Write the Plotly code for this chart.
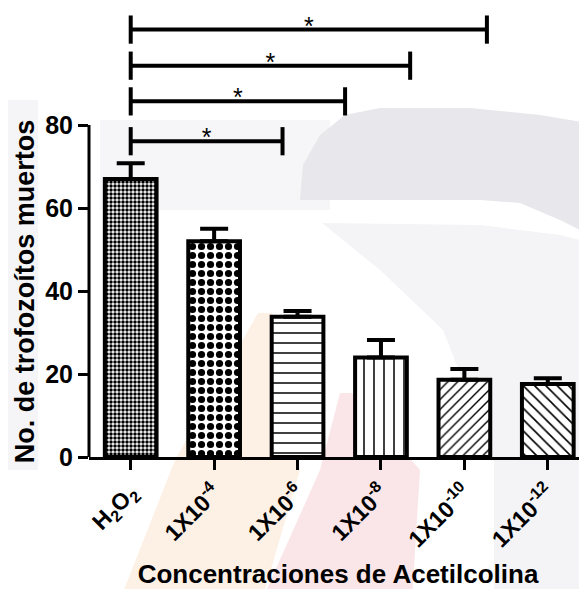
import plotly.graph_objects as go

# ---------------- data ----------------
categories = ["H<sub>2</sub>O<sub>2</sub>", "1X10<sup>-4</sup>", "1X10<sup>-6</sup>",
              "1X10<sup>-8</sup>", "1X10<sup>-10</sup>", "1X10<sup>-12</sup>"]
means = [67.0, 52.0, 33.8, 24.0, 18.6, 17.6]
sem = [3.8, 3.0, 1.4, 4.2, 2.6, 1.4]
y_ticks = [0, 20, 40, 60, 80]
x_title = "Concentraciones de Acetilcolina"
y_title = "No. de trofozoítos muertos"

# significance brackets (from H2O2 to ...)
bracket_start = [0, 0, 0, 0]
bracket_end = [1.82, 2.57, 3.35, 4.27]
bracket_y = [76.1, 85.7, 94.3, 103.0]
bracket_label = ["*", "*", "*", "*"]

# ---------------- styles ----------------
pattern_shapes = [".", ".", "-", "|", "/", "\\"]
pattern_sizes = [4, 9, 10, 10, 7, 8]
pattern_solid = [0.6, 0.5, 0.15, 0.15, 0.2, 0.2]
FONT = "Liberation Sans, Arial, sans-serif"

x_idx = list(range(len(categories)))

fig = go.Figure()

fig.add_trace(go.Bar(
    x=x_idx, y=means, width=0.62,
    marker=dict(
        color="white",
        line=dict(color="black", width=4),
        pattern=dict(shape=pattern_shapes, size=pattern_sizes, solidity=pattern_solid,
                     fgcolor="black", bgcolor="white", fillmode="replace"),
    ),
    error_y=dict(type="data", array=sem, arrayminus=[0] * len(sem), symmetric=False,
                 color="black", thickness=4, width=14),
    showlegend=False,
))

h = 3.4
for s, e, yb, lab in zip(bracket_start, bracket_end, bracket_y, bracket_label):
    fig.add_trace(go.Scatter(
        x=[s, s, None, s, e, None, e, e],
        y=[yb - h, yb + h, None, yb, yb, None, yb - h, yb + h],
        mode="lines", line=dict(color="black", width=4),
        showlegend=False, hoverinfo="skip"))
    fig.add_trace(go.Scatter(
        x=[(s + e) / 2], y=[yb + 0.3], mode="text", text=[lab],
        textposition="middle center",
        textfont=dict(family=FONT, size=25, color="black"),
        showlegend=False, hoverinfo="skip"))

# y axis line only up to the last tick
fig.add_shape(type="line", xref="paper", yref="y", x0=0, x1=0, y0=0, y1=y_ticks[-1],
              line=dict(color="black", width=3), layer="above")

# y-axis title centred on the drawn part of the axis
fig.add_annotation(text=y_title, xref="paper", yref="y", x=-0.128,
                   y=(y_ticks[0] + y_ticks[-1]) / 2, textangle=-90, showarrow=False,
                   xanchor="center", yanchor="middle",
                   font=dict(family=FONT, size=27, color="black", weight="bold"))

# faint watermark in the background (page pixel coords -> paper coords)
X0, PW, Y0, PH = 89, 498, 457, 449
def P(pts):
    s = ""
    for i, (X, Y) in enumerate(pts):
        s += ("M" if i == 0 else "L") + f"{(X - X0) / PW:.4f},{(Y0 - Y) / PH:.4f}"
    return s + "Z"

wm = [
    ([(0, 100), (38, 100), (38, 470), (0, 470)], "#f5f5f7"),
    ([(100, 120), (330, 120), (330, 210), (100, 210)], "#f6f6f8"),
    ([(300, 200), (303, 165), (320, 135), (345, 115), (380, 108), (470, 108), (540, 115),
      (600, 125), (600, 240), (560, 220), (520, 203), (480, 200)], "#e7e7ec"),
    ([(322, 223), (480, 225), (560, 235), (600, 245), (600, 600), (494, 600), (494, 460),
      (443, 330), (380, 270)], "#f4f4f7"),
    ([(258, 313), (272, 313), (300, 470), (262, 600), (120, 600), (175, 460)], "#fdf1e6"),
    ([(340, 393), (352, 393), (420, 470), (412, 600), (262, 600), (320, 470)], "#fae6e8"),
]
for pts, col in wm:
    fig.add_shape(type="path", xref="paper", yref="paper", path=P(pts),
                  fillcolor=col, line=dict(width=0), layer="below")

fig.update_layout(
    width=579, height=581,
    margin=dict(l=81, r=0, t=0, b=132),
    paper_bgcolor="white", plot_bgcolor="rgba(0,0,0,0)",
    font=dict(family=FONT, color="black"),
    xaxis=dict(
        range=[-0.5, 5.47], tickmode="array", tickvals=x_idx, ticktext=categories,
        tickangle=-45, ticks="outside", ticklen=10, tickwidth=3, tickcolor="black",
        showline=True, linecolor="black", linewidth=3, showgrid=False, zeroline=False,
        automargin=False,
        tickfont=dict(family=FONT, size=23, color="black", weight="bold"),
        title=dict(text=x_title, standoff=20,
                   font=dict(family=FONT, size=26, color="black", weight="bold")),
    ),
    yaxis=dict(
        range=[0, 108.2], tickmode="array", tickvals=y_ticks,
        ticks="outside", ticklen=10, tickwidth=3, tickcolor="black",
        showline=False, showgrid=False, zeroline=False, automargin=False,
        tickfont=dict(family=FONT, size=25, color="black", weight="bold"),
    ),
)

fig.write_html("out.html")
